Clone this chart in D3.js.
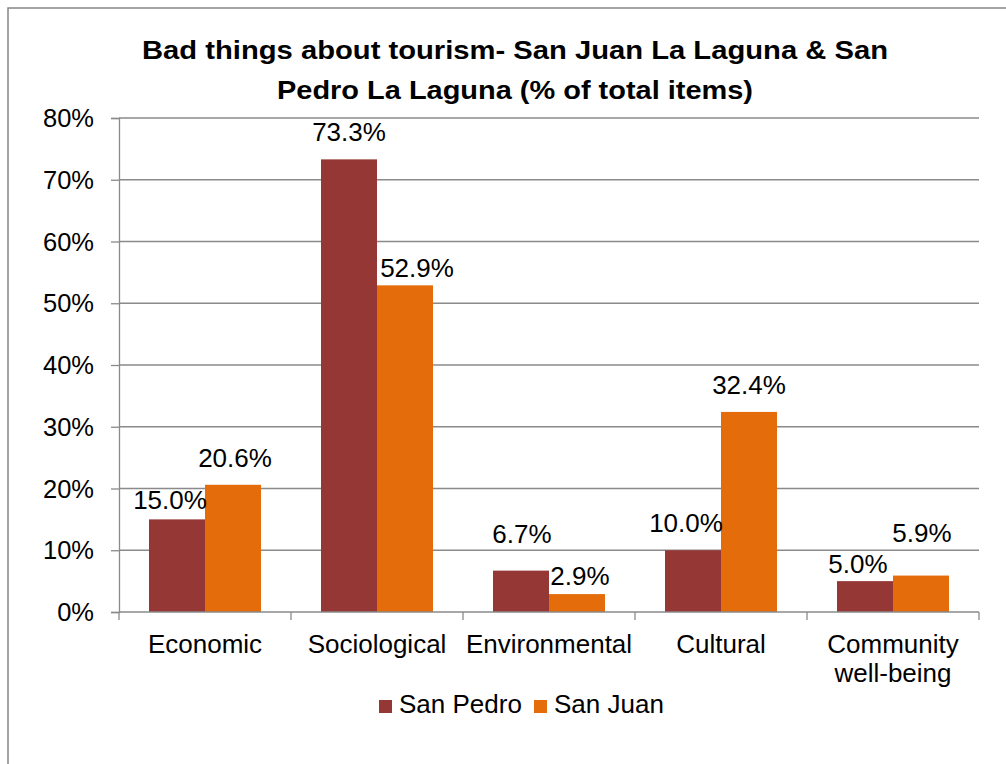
<!DOCTYPE html>
<html>
<head>
<meta charset="utf-8">
<script src="https://cdn.jsdelivr.net/npm/d3@7"></script>
<style>
  html, body { margin: 0; padding: 0; background: #fff; }
  svg { display: block; font-family: "Liberation Sans", Arial, sans-serif; }
</style>
</head>
<body>
<svg id="chart" width="1006" height="764"></svg>
<script>
// Chart data
const categories = ["Economic", "Sociological", "Environmental", "Cultural", "Community well-being"];
const seriesNames = ["San Pedro", "San Juan"];
const sanPedro = [15.0, 73.3, 6.7, 10.0, 5.0];
const sanJuan = [20.6, 52.9, 2.9, 32.4, 5.9];
const yTicks = [0, 10, 20, 30, 40, 50, 60, 70, 80];
const titleLines = ["Bad things about tourism- San Juan La Laguna & San", "Pedro La Laguna (% of total items)"];

// Styling
const colors = { "San Pedro": "#953735", "San Juan": "#E46C0A" };
const gridColor = "#8a8a8a";
const titleWidths = [746, 476];
// Hand-placed label nudges (dx, dy) per series, per category
const labelNudge = {
  "San Pedro": [[-7, 8], [0, 0], [1, -10], [-7, 0], [-7, 10]],
  "San Juan":  [[2, 0], [12, 10], [3, 9], [0, 0], [1, -16]]
};

const values = { "San Pedro": sanPedro, "San Juan": sanJuan };
const svg = d3.select("#chart");

// Outer frame
svg.append("rect")
  .attr("x", 8).attr("y", 8).attr("width", 1010).attr("height", 780)
  .attr("fill", "none").attr("stroke", "#868686").attr("stroke-width", 1.5);

const plot = { left: 119, right: 979, top: 118, bottom: 612 };

const x0 = d3.scaleBand().domain(categories).range([plot.left, plot.right]).padding(0);
const x1 = d3.scaleBand().domain(seriesNames).range([30, 142]).padding(0);
const y = d3.scaleLinear().domain([0, 80]).range([plot.bottom, plot.top]);

// Gridlines
svg.append("g").selectAll("line").data(yTicks.filter(t => t > 0)).join("line")
  .attr("x1", plot.left).attr("x2", plot.right)
  .attr("y1", d => y(d)).attr("y2", d => y(d))
  .attr("stroke", gridColor).attr("stroke-width", 1.3);

// Y axis
const yAxis = svg.append("g")
  .attr("transform", `translate(${plot.left},0)`)
  .call(d3.axisLeft(y).tickValues(yTicks).tickFormat(d => d + "%").tickSize(8).tickPadding(17));
yAxis.select(".domain").attr("stroke", gridColor).attr("stroke-width", 1.3);
yAxis.selectAll(".tick line").attr("stroke", gridColor).attr("stroke-width", 1.3);
yAxis.selectAll(".tick text")
  .attr("font-size", 25.5).attr("fill", "#000")
  .attr("font-family", "'Liberation Sans', Arial, sans-serif")
  .attr("dy", "0.34em");

// Bars
const groups = svg.append("g").selectAll("g").data(categories).join("g")
  .attr("transform", d => `translate(${x0(d)},0)`);

groups.selectAll("rect")
  .data((c, i) => seriesNames.map(s => ({ s, v: values[s][i] })))
  .join("rect")
  .attr("x", d => x1(d.s))
  .attr("width", x1.bandwidth())
  .attr("y", d => y(d.v))
  .attr("height", d => y(0) - y(d.v))
  .attr("fill", d => colors[d.s]);

// X axis
const xAxisG = svg.append("g").attr("transform", `translate(0,${plot.bottom})`);
xAxisG.append("line")
  .attr("x1", plot.left).attr("x2", plot.right)
  .attr("stroke", gridColor).attr("stroke-width", 1.3);
const boundaries = categories.map(c => x0(c)).concat([plot.right]);
xAxisG.selectAll("line.tk").data(boundaries).join("line").attr("class", "tk")
  .attr("x1", d => d).attr("x2", d => d).attr("y1", 0).attr("y2", 8)
  .attr("stroke", gridColor).attr("stroke-width", 1.3);

// Category labels (wrapped)
const catLabels = svg.append("g").selectAll("text").data(categories).join("text")
  .attr("x", d => x0(d) + x0.bandwidth() / 2)
  .attr("y", 653)
  .attr("text-anchor", "middle")
  .attr("font-size", 26).attr("fill", "#000");
catLabels.each(function (d) {
  const lines = d === "Community well-being" ? ["Community", "well-being"] : [d];
  const t = d3.select(this);
  lines.forEach((ln, i) => {
    t.append("tspan").attr("x", x0(d) + x0.bandwidth() / 2).attr("dy", i === 0 ? 0 : 29).text(ln);
  });
});

// Value labels
seriesNames.forEach(s => {
  svg.append("g").selectAll("text").data(values[s]).join("text")
    .attr("x", (v, i) => x0(categories[i]) + x1(s) + x1.bandwidth() / 2 + labelNudge[s][i][0])
    .attr("y", (v, i) => y(v) - 18 + labelNudge[s][i][1])
    .attr("text-anchor", "middle")
    .attr("font-size", 26).attr("fill", "#000")
    .text(v => v.toFixed(1) + "%");
});

// Title
svg.append("g").selectAll("text").data(titleLines).join("text")
  .attr("x", 515)
  .attr("y", (d, i) => 59 + i * 40)
  .attr("text-anchor", "middle")
  .attr("font-size", 25.5).attr("font-weight", "bold").attr("fill", "#000")
  .attr("textLength", (d, i) => titleWidths[i])
  .attr("lengthAdjust", "spacingAndGlyphs")
  .text(d => d);

// Legend
const legendX = [379, 534];
const legend = svg.append("g").selectAll("g").data(seriesNames).join("g")
  .attr("transform", (d, i) => `translate(${legendX[i]},700)`);
legend.append("rect").attr("width", 13).attr("height", 13).attr("fill", d => colors[d]);
legend.append("text").attr("x", 20).attr("y", 13)
  .attr("font-size", 26).attr("fill", "#000").text(d => d);
</script>
</body>
</html>
